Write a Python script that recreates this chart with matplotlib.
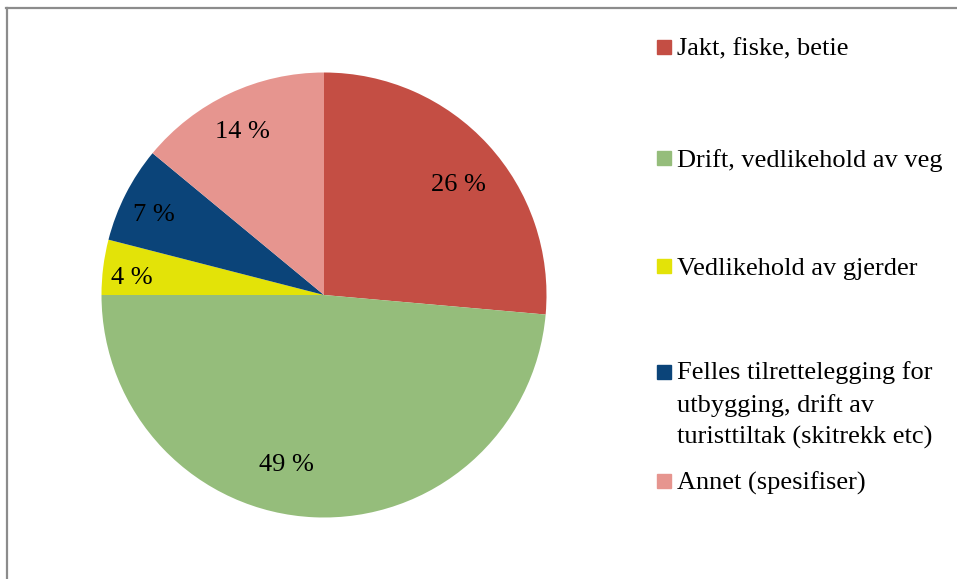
import numpy as np
import matplotlib.pyplot as plt
from matplotlib.patches import Rectangle
from matplotlib.lines import Line2D

# --- data ---
categories = ["Jakt, fiske, betie",
              "Drift, vedlikehold av veg",
              "Vedlikehold av gjerder",
              "Felles tilrettelegging for\nutbygging, drift av\nturisttiltak (skitrekk etc)",
              "Annet (spesifiser)"]
shares = [26.4, 48.6, 4.0, 7.0, 14.0]   # prosent
colors = ["#C44E44", "#95BD7B", "#E3E308", "#0B4479", "#E6958F"]

# --- layout ---
W, H, dpi = 957, 579, 100
fs = 19
plt.rcParams['font.family'] = ['Liberation Serif', 'DejaVu Serif']

fig = plt.figure(figsize=(W / dpi, H / dpi), dpi=dpi)

cx, cy, r = 324, 295, 222.5   # pixel centre / radius of the pie
ax = fig.add_axes([(cx - r) / W, (H - cy - r) / H, 2 * r / W, 2 * r / H])
wedges, texts, autotexts = ax.pie(shares, colors=colors, startangle=90, counterclock=False,
                                  autopct=lambda p: "%.0f %%" % p, pctdistance=0.8,
                                  wedgeprops=dict(linewidth=0),
                                  textprops=dict(fontsize=fs, color="black"))
ax.set_xlim(-1, 1)
ax.set_ylim(-1, 1)
ax.set_aspect('equal')

# label placement like Excel's best fit: (distance, angle offset in deg)
dists = [0.79, 0.77, 0.87, 0.85, 0.83]
turns = [-2.6, -10, 1.5, 1.2, 0.9]
for w, t, d, o in zip(wedges, autotexts, dists, turns):
    a = np.deg2rad((w.theta1 + w.theta2) / 2 + o)
    t.set_position((d * np.cos(a), d * np.sin(a)))
    t.set_va('center_baseline')

# --- legend (manual, Excel style) ---
leg_y = [47, 158, 266, 405, 481]
for lab, c, y in zip(categories, colors, leg_y):
    nlines = lab.count("\n") + 1
    sq_y = y if nlines == 1 else 372
    fig.patches.append(Rectangle((657 / W, 1 - (sq_y + 7) / H), 14 / W, 14 / H,
                                 transform=fig.transFigure, color=c))
    fig.text(677 / W, 1 - y / H, lab, fontsize=fs, ha='left',
             va='center_baseline' if nlines == 1 else 'center',
             linespacing=1.52)

# --- frame (left and top edge) ---
fig.lines.append(Line2D([7 / W, 7 / W], [0, 1 - 7.5 / H], transform=fig.transFigure,
                        color="#8c8c8c", lw=1.6))
fig.lines.append(Line2D([6 / W, 1], [1 - 7.5 / H, 1 - 7.5 / H], transform=fig.transFigure,
                        color="#8c8c8c", lw=1.6))

fig.savefig("out.png", dpi=dpi)
